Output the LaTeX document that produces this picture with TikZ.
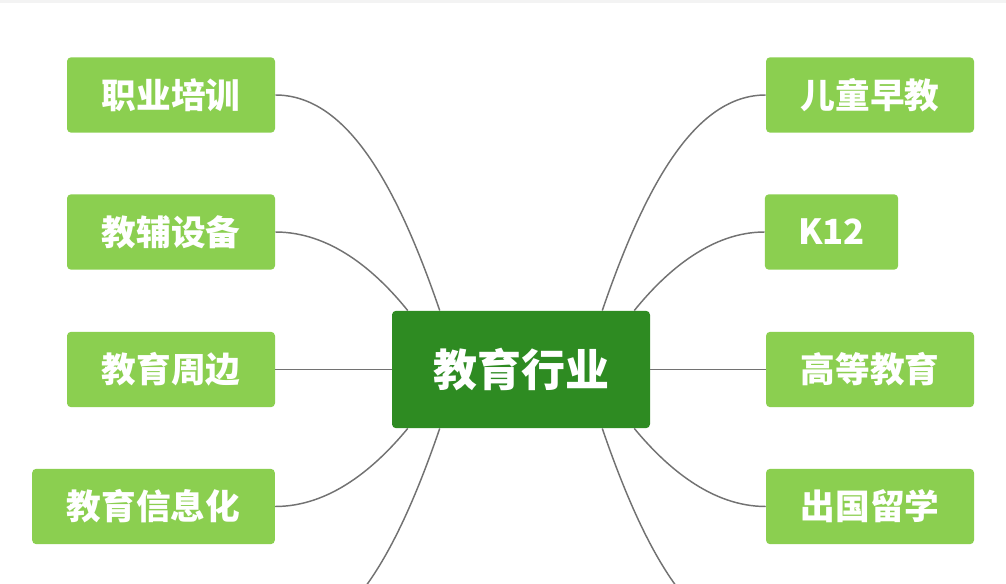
\documentclass[tikz,border=0pt]{standalone}
\usepackage{fontspec}
\newfontfamily\cjk{Noto Sans CJK SC}
\usetikzlibrary{positioning, calc}
\definecolor{verdeosc}{HTML}{2E8B22}
\definecolor{verdecla}{HTML}{8BCF50}
\definecolor{gristira}{HTML}{F3F3F3}
\definecolor{grislinea}{HTML}{727272}

\begin{document}
\begin{tikzpicture}[
		% Escala en pixeles de la imagen
		x=0.75pt, y=-0.75pt,
		% Nodo central y ramas
		central/.style={draw=none, fill=verdeosc, rounded corners=3pt, minimum width=193.5pt, minimum height=88pt, inner sep=0pt, align=center, text=white, font=\cjk\bfseries\fontsize{33}{38}\selectfont},
		rama/.style={draw=none, fill=verdecla, rounded corners=3pt, minimum width=156pt, minimum height=56.5pt, inner sep=0pt, align=center, text=white, font=\cjk\bfseries\fontsize{26}{30}\selectfont},
		% Estilo de conectores
		enlace/.style={draw=grislinea, line width=1.1pt}
		]
		
		% --- MARCO ---
		\clip (0,0) rectangle (1006,584);
		\fill[gristira] (0,0) rectangle (1006,3);
		
		% --- NODO CENTRAL ---
		\node[central] (centro) at (521,369.5) {教育行业};
		
		% --- RAMAS IZQUIERDA ---
		\node[rama] (zhiye) at (171,95) {职业培训};
		\node[rama] (jiaofu) at (171,232) {教辅设备};
		\node[rama] (zhoubian) at (171,369.5) {教育周边};
		\node[rama, minimum width=182pt] (xinxi) at (153.5,506.5) {教育信息化};
		
		% --- RAMAS DERECHA ---
		\node[rama] (zaojiao) at (870,95) {儿童早教};
		\node[rama, minimum width=100pt] (kdoce) at (831.5,232) {K12};
		\node[rama] (gaodeng) at (870,369.5) {高等教育};
		\node[rama] (liuxue) at (870,506.5) {出国留学};
		
		% Puntos de anclaje sobre el nodo central
		\coordinate (ns_izq) at ([xshift=36pt]centro.north west);
		\coordinate (ni_izq) at ([xshift=12pt]centro.north west);
		\coordinate (ss_izq) at ([xshift=12pt]centro.south west);
		\coordinate (si_izq) at ([xshift=36pt]centro.south west);
		\coordinate (ns_der) at ([xshift=-36pt]centro.north east);
		\coordinate (ni_der) at ([xshift=-12pt]centro.north east);
		\coordinate (ss_der) at ([xshift=-12pt]centro.south east);
		\coordinate (si_der) at ([xshift=-36pt]centro.south east);
		% Ramas que siguen fuera del recorte
		\coordinate (fuera_izq) at (275,643);
		\coordinate (fuera_der) at (767,643);
		
		% --- CONEXIONES IZQUIERDA ---
		\draw[enlace] (zhiye.east) .. controls (345,95) and (395,180) .. (ns_izq);
		\draw[enlace] (jiaofu.east) .. controls (330,232) and (375,270) .. (ni_izq);
		\draw[enlace] (zhoubian.east) -- (centro.west);
		\draw[enlace] (xinxi.east) .. controls (330,506.5) and (375,468) .. (ss_izq);
		\draw[enlace] (si_izq) .. controls (395,559) and (345,643) .. (fuera_izq);
		
		% --- CONEXIONES DERECHA ---
		\draw[enlace] (zaojiao.west) .. controls (697,95) and (647,180) .. (ns_der);
		\draw[enlace] (kdoce.west) .. controls (712,232) and (667,270) .. (ni_der);
		\draw[enlace] (gaodeng.west) -- (centro.east);
		\draw[enlace] (liuxue.west) .. controls (712,506.5) and (667,468) .. (ss_der);
		\draw[enlace] (si_der) .. controls (647,559) and (697,643) .. (fuera_der);
		
	\end{tikzpicture}
\end{document}
